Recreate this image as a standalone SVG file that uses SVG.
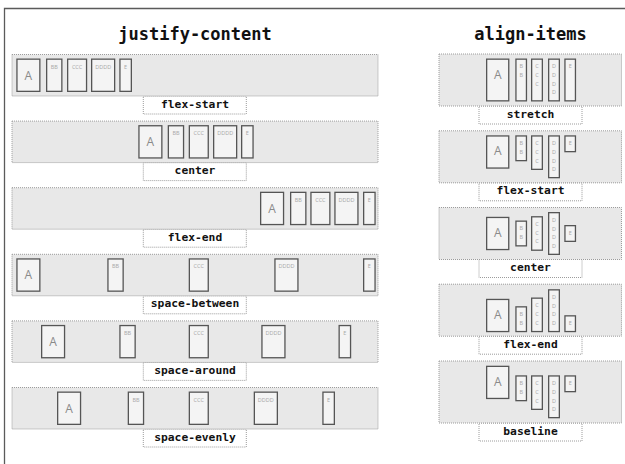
<svg xmlns="http://www.w3.org/2000/svg" width="625" height="464" viewBox="0 0 625 464">
<style>
.frame{fill:none;stroke:#5a5a5a;stroke-width:1.3}
.box{fill:#e8e8e8;stroke:#9c9c9c;stroke-width:1;stroke-dasharray:1 1}
.lbl{fill:#ffffff;stroke:#9c9c9c;stroke-width:1;stroke-dasharray:1 1}
.it{fill:#f4f4f4;stroke:#555555;stroke-width:1.3}
.title{font-family:"DejaVu Sans Mono",monospace;font-weight:bold;font-size:17px;fill:#111;text-anchor:middle}
.lt{font-family:"DejaVu Sans Mono",monospace;font-weight:bold;font-size:11.3px;fill:#111;text-anchor:middle}
.ta{font-family:"Open Sans","DejaVu Sans",sans-serif;font-size:12px;fill:#8a8a8a;text-anchor:middle}
.ts{font-family:"Open Sans","DejaVu Sans",sans-serif;font-size:5.5px;fill:#a8a8a8;text-anchor:middle}
</style>
<rect width="625" height="464" fill="#ffffff"/>
<path class="frame" d="M4.5 464 V8.5 H625"/>
<text class="title" x="195" y="40">justify-content</text>
<text class="title" x="530.5" y="40">align-items</text>

<g id="jc-flex-start">
<rect class="lbl" x="143.3" y="96" width="103" height="18"/>
<rect class="box" x="12" y="54.5" width="366" height="41.5"/>
<text class="lt" x="195" y="107.5">flex-start</text>
<rect class="it" x="16.95" y="59.15" width="22.9" height="32.2"/><text class="ta" x="28.4" y="79.5">A</text>
<rect class="it" x="46.65" y="59.15" width="15.2" height="32.2"/><text class="ts" x="54.25" y="68.5">BB</text>
<rect class="it" x="67.65" y="59.15" width="18.9" height="32.2"/><text class="ts" x="77.1" y="68.5">CCC</text>
<rect class="it" x="91.65" y="59.15" width="23" height="32.2"/><text class="ts" x="103.15" y="68.5">DDDD</text>
<rect class="it" x="119.95" y="59.15" width="11.4" height="32.2"/><text class="ts" x="125.65" y="68.5">E</text>
</g>

<g id="jc-center">
<rect class="lbl" x="143.3" y="162.6" width="103" height="18"/>
<rect class="box" x="12" y="121.1" width="366" height="41.5"/>
<text class="lt" x="195" y="174.1">center</text>
<rect class="it" x="138.95" y="125.75" width="22.9" height="32.2"/><text class="ta" x="150.4" y="146.1">A</text>
<rect class="it" x="168.35" y="125.75" width="15.2" height="32.2"/><text class="ts" x="175.95" y="135.1">BB</text>
<rect class="it" x="189.35" y="125.75" width="18.9" height="32.2"/><text class="ts" x="198.8" y="135.1">CCC</text>
<rect class="it" x="213.65" y="125.75" width="23" height="32.2"/><text class="ts" x="225.15" y="135.1">DDDD</text>
<rect class="it" x="241.65" y="125.75" width="11.4" height="32.2"/><text class="ts" x="247.35" y="135.1">E</text>
</g>

<g id="jc-flex-end">
<rect class="lbl" x="143.3" y="229.2" width="103" height="18"/>
<rect class="box" x="12" y="187.7" width="366" height="41.5"/>
<text class="lt" x="195" y="240.7">flex-end</text>
<rect class="it" x="260.65" y="192.35" width="22.9" height="32.2"/><text class="ta" x="272.1" y="212.7">A</text>
<rect class="it" x="290.65" y="192.35" width="15.2" height="32.2"/><text class="ts" x="298.25" y="201.7">BB</text>
<rect class="it" x="310.95" y="192.35" width="18.9" height="32.2"/><text class="ts" x="320.4" y="201.7">CCC</text>
<rect class="it" x="334.95" y="192.35" width="23" height="32.2"/><text class="ts" x="346.45" y="201.7">DDDD</text>
<rect class="it" x="363.65" y="192.35" width="11.4" height="32.2"/><text class="ts" x="369.35" y="201.7">E</text>
</g>

<g id="jc-space-between">
<rect class="lbl" x="143.3" y="295.8" width="103" height="18"/>
<rect class="box" x="12" y="254.3" width="366" height="41.5"/>
<text class="lt" x="195" y="307.3">space-between</text>
<rect class="it" x="16.95" y="258.95" width="22.9" height="32.2"/><text class="ta" x="28.4" y="279.3">A</text>
<rect class="it" x="107.95" y="258.95" width="15.2" height="32.2"/><text class="ts" x="115.55" y="268.3">BB</text>
<rect class="it" x="189.35" y="258.95" width="18.9" height="32.2"/><text class="ts" x="198.8" y="268.3">CCC</text>
<rect class="it" x="274.95" y="258.95" width="23" height="32.2"/><text class="ts" x="286.45" y="268.3">DDDD</text>
<rect class="it" x="363.65" y="258.95" width="11.4" height="32.2"/><text class="ts" x="369.35" y="268.3">E</text>
</g>

<g id="jc-space-around">
<rect class="lbl" x="143.3" y="362.4" width="103" height="18"/>
<rect class="box" x="12" y="320.9" width="366" height="41.5"/>
<text class="lt" x="195" y="373.9">space-around</text>
<rect class="it" x="41.65" y="325.55" width="22.9" height="32.2"/><text class="ta" x="53.1" y="345.9">A</text>
<rect class="it" x="119.95" y="325.55" width="15.2" height="32.2"/><text class="ts" x="127.55" y="334.9">BB</text>
<rect class="it" x="189.35" y="325.55" width="18.9" height="32.2"/><text class="ts" x="198.8" y="334.9">CCC</text>
<rect class="it" x="261.95" y="325.55" width="23" height="32.2"/><text class="ts" x="273.45" y="334.9">DDDD</text>
<rect class="it" x="339.15" y="325.55" width="11.4" height="32.2"/><text class="ts" x="344.85" y="334.9">E</text>
</g>

<g id="jc-space-evenly">
<rect class="lbl" x="143.3" y="429" width="103" height="18"/>
<rect class="box" x="12" y="387.5" width="366" height="41.5"/>
<text class="lt" x="195" y="440.5">space-evenly</text>
<rect class="it" x="57.65" y="392.15" width="22.9" height="32.2"/><text class="ta" x="69.1" y="412.5">A</text>
<rect class="it" x="128.35" y="392.15" width="15.2" height="32.2"/><text class="ts" x="135.95" y="401.5">BB</text>
<rect class="it" x="189.35" y="392.15" width="18.9" height="32.2"/><text class="ts" x="198.8" y="401.5">CCC</text>
<rect class="it" x="254.35" y="392.15" width="23" height="32.2"/><text class="ts" x="265.85" y="401.5">DDDD</text>
<rect class="it" x="322.95" y="392.15" width="11.4" height="32.2"/><text class="ts" x="328.65" y="401.5">E</text>
</g>

<g id="ai-stretch">
<rect class="lbl" x="479" y="106" width="103" height="18"/>
<rect class="box" x="439" y="54" width="182.5" height="52"/>
<text class="lt" x="530.5" y="117.5">stretch</text>
<rect class="it" x="486.65" y="59.15" width="22.1" height="41.7"/><text class="ta" x="497.7" y="78.5">A</text>
<rect class="it" x="515.95" y="59.15" width="10.5" height="41.7"/><text class="ts" x="521.2" y="68.3">B<tspan x="521.2" dy="8.7">B</tspan></text>
<rect class="it" x="531.65" y="59.15" width="10.7" height="41.7"/><text class="ts" x="537" y="68.3">C<tspan x="537" dy="8.7">C</tspan><tspan x="537" dy="8.7">C</tspan></text>
<rect class="it" x="548.65" y="59.15" width="10.7" height="41.7"/><text class="ts" x="554" y="68.3">D<tspan x="554" dy="8.7">D</tspan><tspan x="554" dy="8.7">D</tspan><tspan x="554" dy="8.7">D</tspan></text>
<rect class="it" x="564.95" y="59.15" width="10.5" height="41.7"/><text class="ts" x="570.2" y="68.3">E</text>
</g>

<g id="ai-flex-start">
<rect class="lbl" x="479" y="182.8" width="103" height="18"/>
<rect class="box" x="439" y="130.8" width="182.5" height="52"/>
<text class="lt" x="530.5" y="194.3">flex-start</text>
<rect class="it" x="486.65" y="135.95" width="22.1" height="32.1"/><text class="ta" x="497.7" y="155.3">A</text>
<rect class="it" x="515.95" y="135.95" width="10.5" height="24.7"/><text class="ts" x="521.2" y="145.1">B<tspan x="521.2" dy="8.7">B</tspan></text>
<rect class="it" x="531.65" y="135.95" width="10.7" height="33.4"/><text class="ts" x="537" y="145.1">C<tspan x="537" dy="8.7">C</tspan><tspan x="537" dy="8.7">C</tspan></text>
<rect class="it" x="548.65" y="135.95" width="10.7" height="41.7"/><text class="ts" x="554" y="145.1">D<tspan x="554" dy="8.7">D</tspan><tspan x="554" dy="8.7">D</tspan><tspan x="554" dy="8.7">D</tspan></text>
<rect class="it" x="564.95" y="135.95" width="10.5" height="15.7"/><text class="ts" x="570.2" y="145.1">E</text>
</g>

<g id="ai-center">
<rect class="lbl" x="479" y="259.5" width="103" height="18"/>
<rect class="box" x="439" y="207.5" width="182.5" height="52"/>
<text class="lt" x="530.5" y="271">center</text>
<rect class="it" x="486.65" y="217.45" width="22.1" height="32.1"/><text class="ta" x="497.7" y="236.8">A</text>
<rect class="it" x="515.95" y="221.15" width="10.5" height="24.7"/><text class="ts" x="521.2" y="230.3">B<tspan x="521.2" dy="8.7">B</tspan></text>
<rect class="it" x="531.65" y="216.8" width="10.7" height="33.4"/><text class="ts" x="537" y="225.95">C<tspan x="537" dy="8.7">C</tspan><tspan x="537" dy="8.7">C</tspan></text>
<rect class="it" x="548.65" y="212.65" width="10.7" height="41.7"/><text class="ts" x="554" y="221.8">D<tspan x="554" dy="8.7">D</tspan><tspan x="554" dy="8.7">D</tspan><tspan x="554" dy="8.7">D</tspan></text>
<rect class="it" x="564.95" y="225.65" width="10.5" height="15.7"/><text class="ts" x="570.2" y="234.8">E</text>
</g>

<g id="ai-flex-end">
<rect class="lbl" x="479" y="336.2" width="103" height="18"/>
<rect class="box" x="439" y="284.2" width="182.5" height="52"/>
<text class="lt" x="530.5" y="347.7">flex-end</text>
<rect class="it" x="486.65" y="299.45" width="22.1" height="32.1"/><text class="ta" x="497.7" y="318.8">A</text>
<rect class="it" x="515.95" y="306.85" width="10.5" height="24.7"/><text class="ts" x="521.2" y="316">B<tspan x="521.2" dy="8.7">B</tspan></text>
<rect class="it" x="531.65" y="298.15" width="10.7" height="33.4"/><text class="ts" x="537" y="307.3">C<tspan x="537" dy="8.7">C</tspan><tspan x="537" dy="8.7">C</tspan></text>
<rect class="it" x="548.65" y="289.85" width="10.7" height="41.7"/><text class="ts" x="554" y="299">D<tspan x="554" dy="8.7">D</tspan><tspan x="554" dy="8.7">D</tspan><tspan x="554" dy="8.7">D</tspan></text>
<rect class="it" x="564.95" y="315.85" width="10.5" height="15.7"/><text class="ts" x="570.2" y="325">E</text>
</g>

<g id="ai-baseline">
<rect class="lbl" x="479" y="423" width="103" height="18"/>
<rect class="box" x="439" y="361" width="182.5" height="62"/>
<text class="lt" x="530.5" y="434.5">baseline</text>
<rect class="it" x="486.65" y="366.35" width="22.1" height="32.1"/><text class="ta" x="497.7" y="385.7">A</text>
<rect class="it" x="515.95" y="375.95" width="10.5" height="24.7"/><text class="ts" x="521.2" y="385.1">B<tspan x="521.2" dy="8.7">B</tspan></text>
<rect class="it" x="531.65" y="375.95" width="10.7" height="33.4"/><text class="ts" x="537" y="385.1">C<tspan x="537" dy="8.7">C</tspan><tspan x="537" dy="8.7">C</tspan></text>
<rect class="it" x="548.65" y="375.95" width="10.7" height="41.7"/><text class="ts" x="554" y="385.1">D<tspan x="554" dy="8.7">D</tspan><tspan x="554" dy="8.7">D</tspan><tspan x="554" dy="8.7">D</tspan></text>
<rect class="it" x="564.95" y="375.95" width="10.5" height="15.7"/><text class="ts" x="570.2" y="385.1">E</text>
</g>

<g id="connectors"></g>
</svg>
